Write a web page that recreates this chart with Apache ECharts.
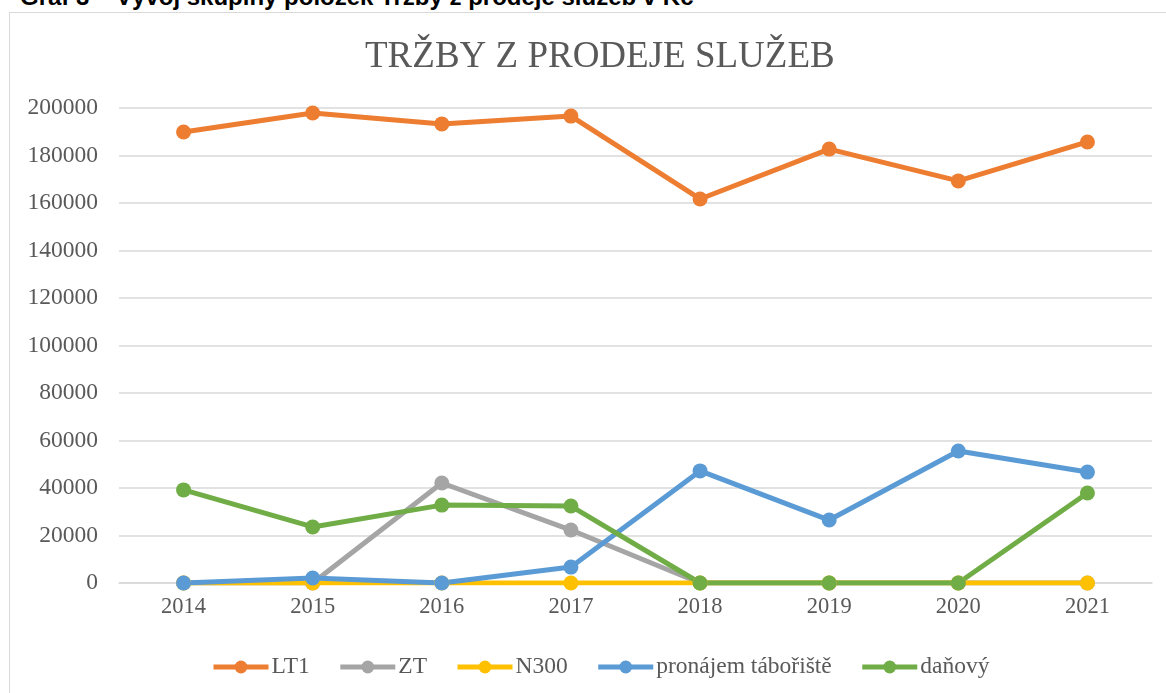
<!DOCTYPE html>
<html>
<head>
<meta charset="utf-8">
<script src="https://cdn.jsdelivr.net/npm/echarts@6/dist/echarts.min.js"></script>
<style>
  html, body { margin: 0; padding: 0; background: #fff; overflow: hidden; }
  #caption {
    position: absolute; left: 20px; top: -17px;
    font: bold 24px "Liberation Sans", Arial, sans-serif; color: #000;
    white-space: nowrap;
  }
  #frame {
    position: absolute; left: 9px; top: 12px; width: 1200px; height: 720px;
    border: 1.5px solid #d9d9d9; box-sizing: border-box;
  }
  #chart { position: absolute; left: 0; top: 0; width: 1166px; height: 693px; }
</style>
</head>
<body>
<div id="caption">Graf 3 – Vývoj skupiny položek Tržby z prodeje služeb v Kč</div>
<div id="frame"></div>
<div id="chart"></div>
<script>
  var years = ["2014", "2015", "2016", "2017", "2018", "2019", "2020", "2021"];
  var lt1 = [189900, 197900, 193300, 196600, 161700, 182700, 169300, 185700];
  var zt = [0, 0, 42100, 22300, 0, 0, 0, 0];
  var n300 = [0, 0, 0, 0, 0, 0, 0, 0];
  var pronajem = [0, 2100, 0, 6700, 47200, 26500, 55600, 46700];
  var danovy = [39200, 23600, 32800, 32400, 0, 0, 0, 37900];

  var serif = '"Liberation Serif", "Times New Roman", serif';
  var textColor = "#595959";

  function line(name, data, color) {
    return {
      name: name,
      type: "line",
      data: data,
      symbol: "circle",
      symbolSize: 15,
      lineStyle: { width: 5, color: color },
      itemStyle: { color: color },
      emphasis: { disabled: true }
    };
  }

  var myChart = echarts.init(document.getElementById("chart"));
  myChart.setOption({
    animation: false,
    title: {
      text: "TRŽBY Z PRODEJE SLUŽEB",
      left: 360,
      top: 34,
      textStyle: { fontFamily: serif, fontSize: 37, fontWeight: "normal", color: textColor }
    },
    legend: {
      top: 650,
      left: 206,
      itemWidth: 55,
      itemHeight: 16,
      itemGap: 28,
      lineStyle: { width: 5 },
      textStyle: { fontFamily: serif, fontSize: 23.5, color: textColor, padding: [0, 0, 0, -2] }
    },
    grid: { left: 119, right: 14, top: 108, bottom: 110 },
    xAxis: {
      type: "category",
      data: years,
      axisLine: { lineStyle: { color: "#d9d9d9", width: 1.5 } },
      axisTick: { show: false },
      axisLabel: { fontFamily: serif, fontSize: 22.5, color: textColor, margin: 13 }
    },
    yAxis: {
      type: "value",
      min: 0,
      max: 200000,
      interval: 20000,
      axisLine: { show: false },
      axisTick: { show: false },
      splitLine: { lineStyle: { color: "#d9d9d9", width: 1.5 } },
      axisLabel: {
        fontFamily: serif, fontSize: 23.5, color: textColor, margin: 21,
        formatter: function (v) { return String(v); }
      }
    },
    series: [
      line("LT1", lt1, "#ED7D31"),
      line("ZT", zt, "#A5A5A5"),
      line("N300", n300, "#FFC000"),
      line("pronájem tábořiště", pronajem, "#5B9BD5"),
      line("daňový", danovy, "#70AD47")
    ]
  });
</script>
</body>
</html>
